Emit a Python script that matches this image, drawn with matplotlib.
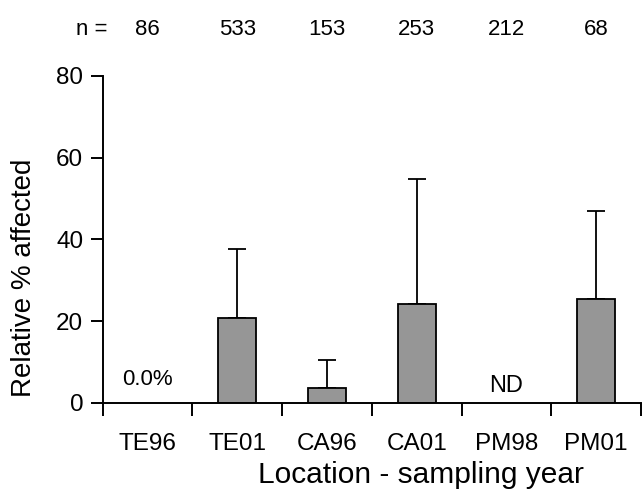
import matplotlib
matplotlib.use("Agg")
import matplotlib.pyplot as plt
import numpy as np

categories = ["TE96", "TE01", "CA96", "CA01", "PM98", "PM01"]
values = [0.0, 20.8, 3.7, 24.1, 0.0, 25.3]
err_up = [0.0, 16.9, 6.7, 30.8, 0.0, 21.7]
has_bar = [False, True, True, True, False, True]
n_values = ["86", "533", "153", "253", "212", "68"]

plt.rcParams['font.family'] = ['Liberation Sans', 'DejaVu Sans']

fig = plt.figure(figsize=(6.44, 4.97), dpi=100)
W, H = 644, 497
ax = fig.add_axes([102.7 / W, 1 - 402.7 / H, (641 - 102.7) / W, (402.7 - 76) / H])

x = np.arange(len(categories)) + 0.5
bx = [xi for xi, h in zip(x, has_bar) if h]
bv = [v for v, h in zip(values, has_bar) if h]
be = [e for e, h in zip(err_up, has_bar) if h]
ax.bar(bx, bv, width=0.42, color="#969696", edgecolor="black", linewidth=1.3, zorder=2)
ax.errorbar(bx, bv, yerr=[np.zeros(len(be)), be], fmt="none", ecolor="black",
            elinewidth=1.3, capsize=6.5, capthick=1.3, zorder=1)

ax.text(x[0], 4.3, "0.0%", ha="center", va="baseline", fontsize=16)
ax.text(x[4], 2.7, "ND", ha="center", va="baseline", fontsize=17)

ax.set_xlim(0, 6)
ax.set_ylim(0, 80)
ax.set_yticks([0, 20, 40, 60, 80])
ax.set_xticks(np.arange(0, 7))
ax.set_xticklabels([])
ax.set_xticks(x, minor=True)
ax.set_xticklabels(categories, minor=True)
ax.tick_params(axis="x", which="minor", length=0, pad=22, labelsize=17.5)
ax.tick_params(axis="x", which="major", length=9, width=1.4, direction="out")
ax.tick_params(axis="y", length=9, width=1.4, direction="out", labelsize=17.5, pad=5)

for s in ["top", "right"]:
    ax.spines[s].set_visible(False)
for s in ["left", "bottom"]:
    ax.spines[s].set_linewidth(1.4)

ax.set_ylabel("Relative % affected", fontsize=20, va="center", ha="center")
ax.yaxis.set_label_coords((24 - 102.7) / 538.3, (402.7 - 278) / 326.7)
ax.set_xlabel("Location - sampling year", fontsize=21.5, va="baseline", ha="center")
ax.xaxis.set_label_coords((421 - 102.7) / 538.3, (402.7 - 483) / 326.7)

fig.text(92 / W, 1 - 35 / H, "n =", ha="center", va="baseline", fontsize=16)
trans = ax.get_xaxis_transform()
for xi, nv in zip(x, n_values):
    ax.text(xi, 1 + (76 - 35) / 326.7, nv, transform=trans, ha="center",
            va="baseline", fontsize=16, clip_on=False)

fig.savefig("out.png", dpi=100)
